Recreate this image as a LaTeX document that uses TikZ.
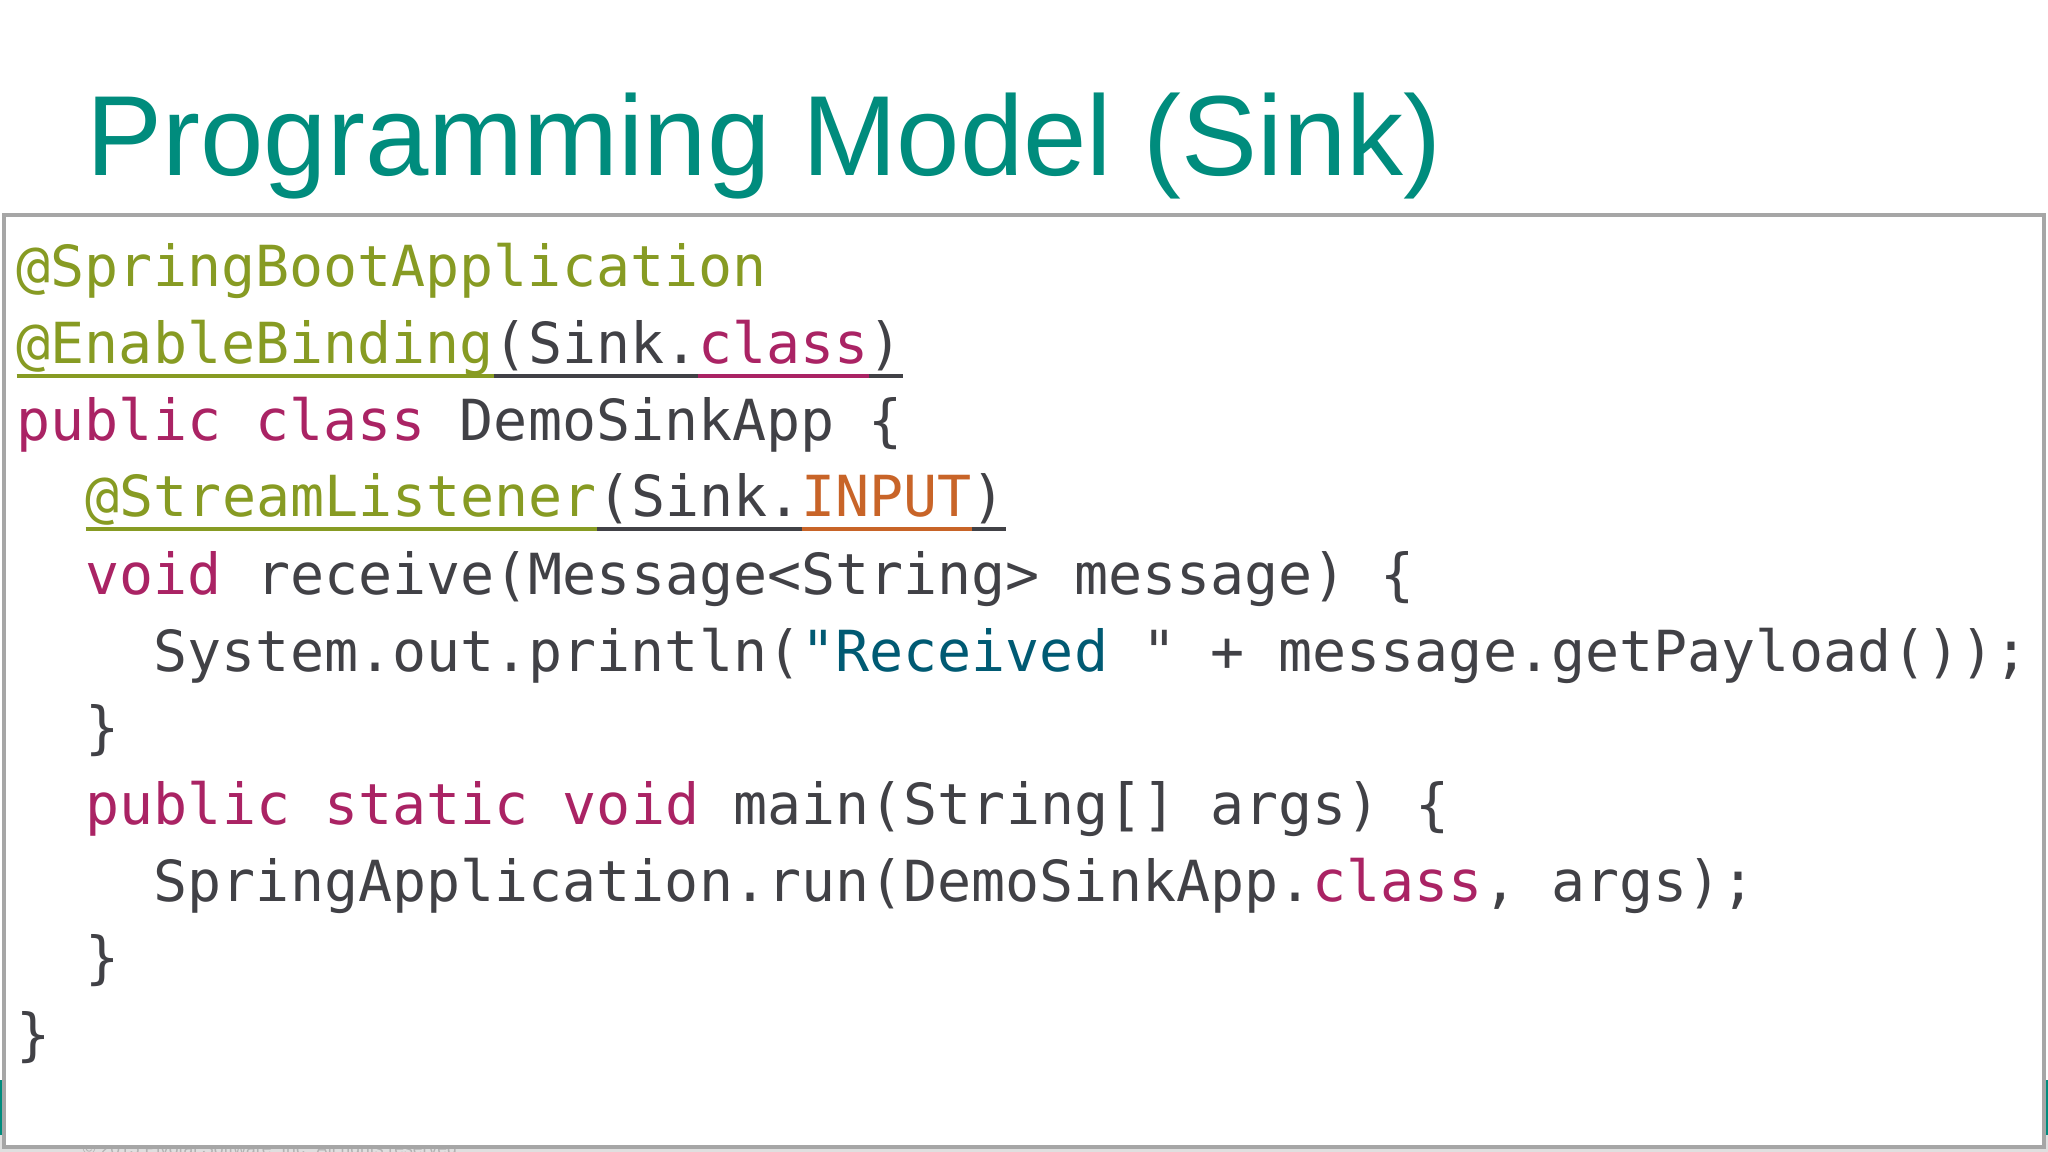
\documentclass[tikz,border=0pt]{standalone}
\usepackage{fontspec}
\setmainfont{Liberation Sans}
\newfontfamily\codefont{DejaVu Sans Mono}
\definecolor{ttl}{RGB}{0,140,125}
\definecolor{cg}{RGB}{135,155,35}
\definecolor{cm}{RGB}{170,35,100}
\definecolor{cd}{RGB}{65,65,70}
\definecolor{co}{RGB}{200,100,40}
\definecolor{cs}{RGB}{0,90,115}
\newcommand\ulc[2]{{\color{#1}\setbox0\hbox{#2}\rlap{\rule[-0.24em]{\wd0}{0.07em}}\box0}}
\begin{document}
\begin{tikzpicture}[x=0.01cm,y=-0.01cm,
  code/.style={anchor=base west,inner sep=0pt,font=\codefont\fontsize{16.1pt}{20pt}\selectfont,text=cd}]
\useasboundingbox (0,0) rectangle (2048,1152);
\fill[white] (0,0) rectangle (2048,1152);
\fill[ttl] (0,1080) rectangle (2048,1135);
\fill[gray!25] (0,1135) rectangle (2048,1152);
\node[anchor=base west,inner sep=0pt,text=gray!60,font=\fontsize{5pt}{6pt}\selectfont] (copy) at (82,1154) {\copyright{} 2015 Pivotal Software, Inc. All rights reserved.};
\node[anchor=base west,inner sep=0pt,text=ttl,font=\fontsize{32.4pt}{40pt}\selectfont] (title) at (86,176) {Programming Model (Sink)};
\draw[gray!70,fill=white,line width=1.2pt] (4,215) rectangle (2044,1147);
\node[code] (l1) at (16,287) {\color{cg}@SpringBootApplication};
\node[code] (l2) at (16,364) {\ulc{cg}{@EnableBinding}\ulc{cd}{(Sink.}\ulc{cm}{class}\ulc{cd}{)}};
\node[code] (l3) at (16,441) {\color{cm}public class \color{cd}DemoSinkApp \{};
\node[code] (l4) at (85,517) {\ulc{cg}{@StreamListener}\ulc{cd}{(Sink.}\ulc{co}{INPUT}\ulc{cd}{)}};
\node[code] (l5) at (85,594) {\color{cm}void \color{cd}receive(Message<String> message) \{};
\node[code] (l6) at (153,671) {System.out.println(\color{cs}"Received \color{cd}" + message.getPayload());};
\node[code] (l7) at (85,747) {\}};
\node[code] (l8) at (85,824) {\color{cm}public static void \color{cd}main(String[] args) \{};
\node[code] (l9) at (153,901) {SpringApplication.run(DemoSinkApp.\color{cm}class\color{cd}, args);};
\node[code] (l10) at (85,977) {\}};
\node[code] (l11) at (16,1054) {\}};
\end{tikzpicture}
\end{document}
